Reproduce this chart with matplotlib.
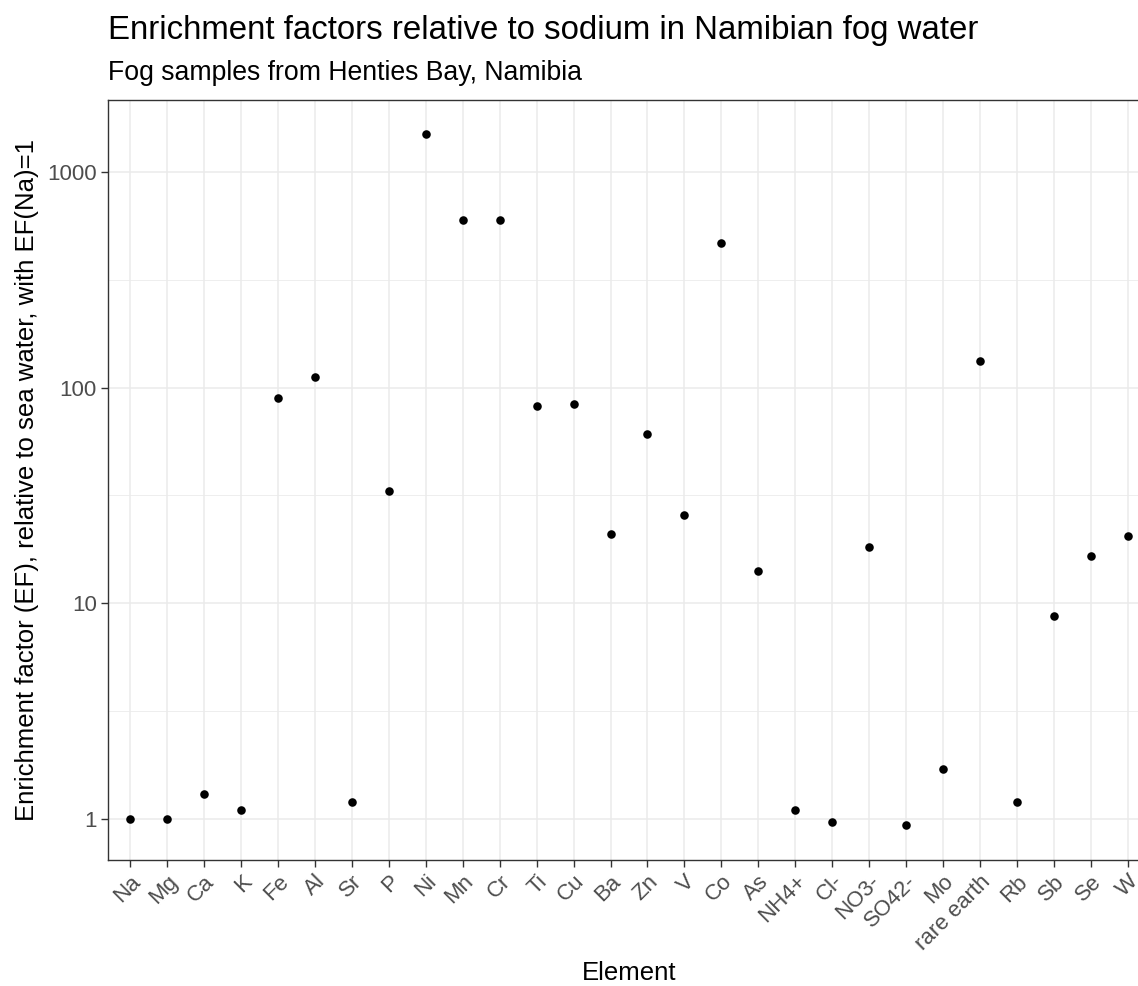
import matplotlib.pyplot as plt
from matplotlib.ticker import FixedLocator, NullFormatter

plt.rcParams['font.family'] = ['Liberation Sans', 'DejaVu Sans']

elements = ['Na', 'Mg', 'Ca', 'K', 'Fe', 'Al', 'Sr', 'P', 'Ni', 'Mn', 'Cr', 'Ti', 'Cu', 'Ba',
            'Zn', 'V', 'Co', 'As', 'NH4+', 'Cl-', 'NO3-', 'SO42-', 'Mo', 'rare earth', 'Rb',
            'Sb', 'Se', 'W']
ef_values = [1.0, 1.0, 1.3, 1.1, 90, 112, 1.2, 33, 1500, 600, 600, 82, 84, 21,
             61, 25.7, 468, 14.1, 1.1, 0.97, 18.2, 0.94, 1.71, 133, 1.2,
             8.7, 16.6, 20.5]
major_ticks = [1, 10, 100, 1000]
minor_ticks = [3.162, 31.62, 316.2]

W, H = 1138, 986
fig = plt.figure(figsize=(W / 100, H / 100), dpi=100)
# panel runs past the right edge, as in the cropped reference
ax = fig.add_axes([108 / W, (H - 860) / H, (1150 - 108) / W, (860 - 100) / H])

x = list(range(len(elements)))
ax.scatter(x, ef_values, s=38, color='black', zorder=3, linewidths=0)

ax.set_yscale('log')
ax.set_ylim(0.645, 2158)
ax.set_xlim(-0.6, len(elements) - 1 + 0.6)
ax.yaxis.set_major_locator(FixedLocator(major_ticks))
ax.yaxis.set_minor_locator(FixedLocator(minor_ticks))
ax.yaxis.set_minor_formatter(NullFormatter())
ax.set_yticklabels([str(v) for v in major_ticks])
ax.set_xticks(x)
ax.set_xticklabels(elements, rotation=45, ha='right', rotation_mode='anchor')

ax.grid(True, which='major', color='#EBEBEB', linewidth=1.1, zorder=0)
ax.grid(True, which='minor', axis='y', color='#EBEBEB', linewidth=0.6, zorder=0)
ax.set_axisbelow(True)
for s in ax.spines.values():
    s.set_color('#333333')
    s.set_linewidth(1.0)
ax.tick_params(which='major', color='#333333', length=5, width=1.0,
               labelsize=16, labelcolor='#4D4D4D', pad=3)
ax.tick_params(which='minor', length=0)

ax.set_xlabel('Element', fontsize=18.5, labelpad=5)
ax.set_ylabel('Enrichment factor (EF), relative to sea water, with EF(Na)=1', fontsize=18.5, labelpad=6)

fig.text(108 / W, 1 - 30 / H, 'Enrichment factors relative to sodium in Namibian fog water',
         fontsize=23.8, va='center', ha='left')
fig.text(108 / W, 1 - 73 / H, 'Fog samples from Henties Bay, Namibia',
         fontsize=19.2, va='center', ha='left')

fig.savefig('out.png', dpi=100)
